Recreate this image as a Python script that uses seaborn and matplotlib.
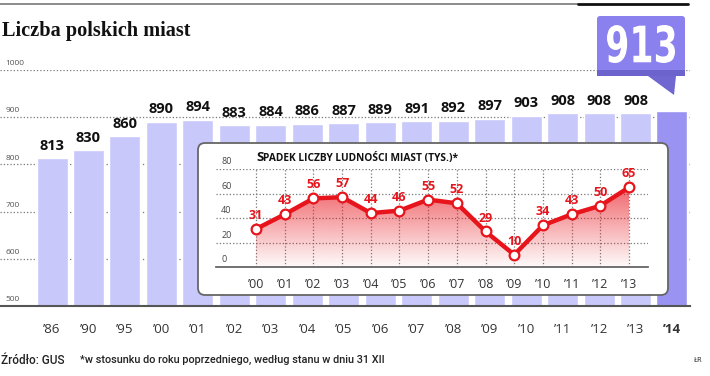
import matplotlib
matplotlib.use('Agg')

import numpy as np
import pandas as pd
import matplotlib.pyplot as plt
import seaborn as sns
from matplotlib.patches import FancyBboxPatch, Polygon, Rectangle, PathPatch
from matplotlib.textpath import TextPath
from matplotlib.font_manager import FontProperties
from matplotlib.transforms import Affine2D

years = ["’86", "’90", "’95", "’00", "’01", "’02", "’03", "’04", "’05",
         "’06", "’07", "’08", "’09", "’10", "’11", "’12", "’13", "’14"]
towns = [813, 830, 860, 890, 894, 883, 884, 886, 887,
         889, 891, 892, 897, 903, 908, 908, 908, 913]
main_ticks = [500, 600, 700, 800, 900, 1000]

inset_years = ["’00", "’01", "’02", "’03", "’04", "’05", "’06",
               "’07", "’08", "’09", "’10", "’11", "’12", "’13"]
decline = [31, 43, 56, 57, 44, 46, 55, 52, 29, 10, 34, 43, 50, 65]
inset_ticks = [0, 20, 40, 60, 80]

light = '#c9c8fa'
dark = '#9b93f2'
red = '#e8141c'
W, H = 710, 376

sns.set_theme(style='white')
plt.rcParams['font.family'] = ['Open Sans', 'DejaVu Sans']

fig = plt.figure(figsize=(W / 100, H / 100), dpi=100)


def box(l, t, r, b):
    return [l / W, 1 - b / H, (r - l) / W, (b - t) / H]


# main bars
ax = fig.add_axes(box(0, 70, 690, 306))
df = pd.DataFrame({'rok': years, 'miasta': towns})
sns.barplot(data=df, x='rok', y='miasta', color=light, saturation=1,
            width=0.85, ax=ax)
ax.patches[-1].set_facecolor(dark)
ax.set_ylim(500, 1000)
ax.set_xlim(-52 / 36.47, 17 + 18 / 36.47)
ax.set_yticks(main_ticks)
ax.set_yticklabels([])
ax.grid(axis='y', ls=':', color='#777', lw=0.9)
ax.set_axisbelow(True)
ax.set_xlabel('')
ax.set_ylabel('')
for s in ['top', 'right', 'left']:
    ax.spines[s].set_visible(False)
ax.spines['bottom'].set_color('#555')
ax.spines['bottom'].set_linewidth(1.5)
ax.tick_params(axis='x', length=0, pad=12, labelsize=9.5, labelcolor='#333')
ax.get_xticklabels()[-1].set_fontweight('bold')
ax.bar_label(ax.containers[0], labels=[str(v) for v in towns[:-1]] + [''],
             padding=4, fontsize=10.5, fontweight='bold', color='#111')
for t in main_ticks:
    ax.annotate(str(t), (0.008, t), xycoords=('axes fraction', 'data'),
                xytext=(0, 2), textcoords='offset points', va='bottom',
                fontsize=6, color='#555')

# overlay in pixel coordinates
ov = fig.add_axes([0, 0, 1, 1])
ov.set_xlim(0, W)
ov.set_ylim(H, 0)
ov.axis('off')
ov.patch.set_alpha(0)

ov.plot([0, 578], [4, 4], color='#777', lw=1.2)
ov.plot([578, 688], [4, 4], color='#111', lw=2)
ov.text(2, 31, 'Liczba polskich miast', fontsize=14.6, fontweight='bold',
        family='Liberation Serif', color='#111', va='center')

# badge with the latest value
ov.add_patch(FancyBboxPatch((597, 16), 88, 56,
                            boxstyle='round,pad=0,rounding_size=3',
                            fc='#8a80ee', ec='none'))
ov.add_patch(Rectangle((597, 70), 88, 6, fc='#6c63cc', ec='none'))
ov.add_patch(Polygon([(648, 76), (676, 76), (674, 95)], fc='#7068d0', ec='none'))
tp = TextPath((0, 0), str(towns[-1]), size=40,
              prop=FontProperties(family='DejaVu Sans', weight='bold'))
bb = tp.get_extents()
tr = (Affine2D().translate(-bb.x0, -bb.y0)
      .scale(68 / bb.width, -38 / bb.height).translate(607, 63))
ov.add_patch(PathPatch(tr.transform_path(tp), fc='white', ec='none'))

# inset frame and title
ov.add_patch(FancyBboxPatch((198, 143), 470, 152,
                            boxstyle='round,pad=0,rounding_size=7',
                            fc='white', ec='#666', lw=1.3))
t1 = ov.text(256, 161, 'S', fontsize=9.5, fontweight='bold', color='#111')
ov.annotate('PADEK LICZBY LUDNOŚCI MIAST (TYS.)*', xy=(1, 0), xycoords=t1,
            fontsize=7.3, fontweight='bold', color='#111', va='bottom')

ov.text(1, 360, 'Źródło: GUS', fontsize=8.5, color='#222', va='center',
        family='Roboto', fontweight='medium')
ov.text(80, 360, '*w stosunku do roku poprzedniego, według stanu w dniu 31 XII',
        fontsize=7.8, color='#222', va='center', family='Roboto',
        fontweight='medium')
ov.text(703, 360, 'ŁR', fontsize=5.5, color='#222', va='center', ha='right')

# inset line chart
ax2 = fig.add_axes(box(216, 169, 648, 267))
ax2.patch.set_alpha(0)
x = np.arange(len(decline))
poly = Polygon(np.column_stack([np.r_[x, x[::-1]],
                                np.r_[decline, np.zeros(len(x))]]),
               closed=True, fc='none', ec='none')
ax2.add_patch(poly)
grad = np.zeros((100, 1, 4))
grad[..., :3] = matplotlib.colors.to_rgb(red)
grad[..., 3] = np.linspace(0.65, 0.02, 100)[:, None]
im = ax2.imshow(grad, extent=[0, len(x) - 1, 0, max(decline)],
                aspect='auto', origin='upper', zorder=1)
im.set_clip_path(poly)
sns.lineplot(x=x, y=decline, color=red, lw=3.2, marker='o', markersize=7,
             markerfacecolor='white', markeredgecolor=red, markeredgewidth=1.6,
             ax=ax2, zorder=3)
for i, v in enumerate(decline):
    ax2.annotate(str(v), (i, v), xytext=(0, 5), textcoords='offset points',
                 ha='center', va='bottom', color=red, fontsize=9,
                 fontweight='bold')
ax2.set_ylim(0, 80)
ax2.set_xlim(-40 / 28.69, 13 + 19 / 28.69)
ax2.set_xticks(x)
ax2.set_xticklabels(inset_years)
ax2.set_yticks(inset_ticks)
ax2.set_yticklabels([])
ax2.grid(True, ls=':', color='#777', lw=0.9)
ax2.set_axisbelow(True)
for s in ['top', 'right', 'left']:
    ax2.spines[s].set_visible(False)
ax2.spines['bottom'].set_color('#666')
ax2.spines['bottom'].set_linewidth(1.3)
ax2.tick_params(axis='x', length=0, pad=8, labelsize=9, labelcolor='#333')
ax2.tick_params(axis='y', length=0)
for t in inset_ticks:
    ax2.annotate(str(t), (0.012, t), xycoords=('axes fraction', 'data'),
                 xytext=(0, 2), textcoords='offset points', va='bottom',
                 fontsize=6.5, color='#444')
ax2.set_xlabel('')
ax2.set_ylabel('')

fig.savefig('out.png', dpi=100)
